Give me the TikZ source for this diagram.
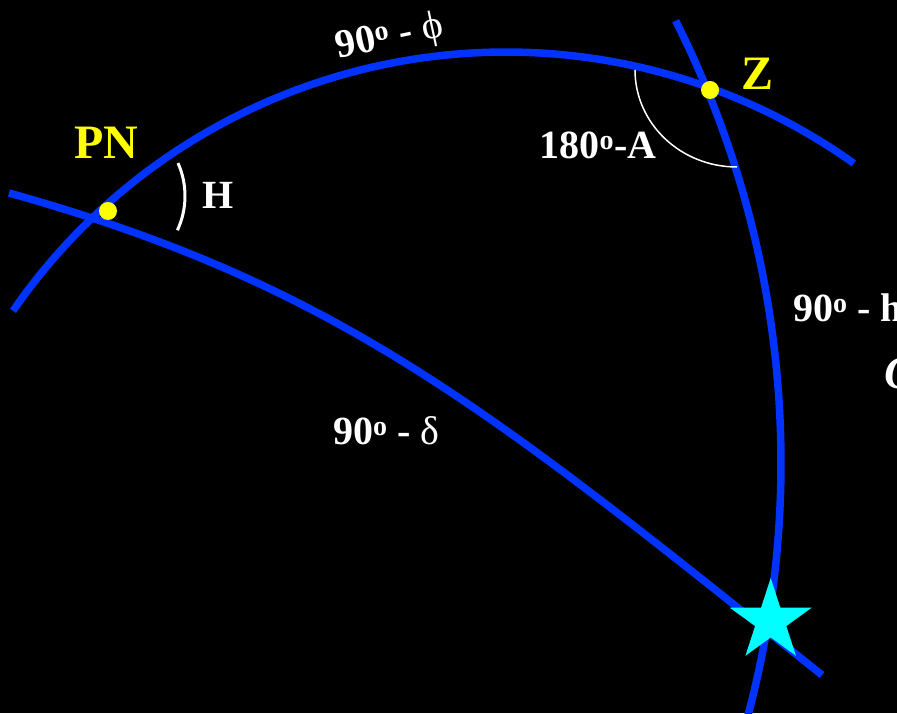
\documentclass[tikz,border=0pt]{standalone}
\usepackage{fontspec}
\setmainfont{Liberation Serif}
\usetikzlibrary{shapes.geometric}
\definecolor{arcblue}{RGB}{0,51,255}
\definecolor{dotyellow}{RGB}{255,255,0}
\definecolor{starcyan}{RGB}{0,255,255}
\begin{document}
\begin{tikzpicture}[x=1pt,y=1pt,
  arcline/.style={line width=7.5pt, draw=arcblue},
  dotnode/.style={circle, fill=dotyellow, inner sep=0pt, minimum size=18pt},
  lbl/.style={text=white, font=\bfseries\fontsize{40}{48}\selectfont, inner sep=0pt},
  ylbl/.style={text=dotyellow, font=\bfseries\fontsize{48}{56}\selectfont, inner sep=0pt},
  anglearc/.style={draw=white}]
\fill[black] (0,0) rectangle (897,713);
\useasboundingbox (0,0) rectangle (897,713);
\clip (0,0) rectangle (897,713);
% great circles
\draw[arcline] (506,62) ++(145.4:599) arc[start angle=145.4, end angle=54.5, radius=599];
\draw[arcline] (-200,250) ++(26.8:981) arc[start angle=26.8, end angle=-16, radius=981];
\draw[arcline] (9,520) .. controls (339,428) and (492,302) .. (822,38);
% angle marks
\draw[anglearc, line width=3pt] (104,517) ++(24:81) arc[start angle=24, end angle=-25, radius=81];
\draw[anglearc, line width=1.5pt] (635,643) arc[start angle=180, end angle=270, x radius=102, y radius=97];
% points
\node[dotnode] (PN) at (108,502) {};
\node[dotnode] (Z) at (710,623) {};
\node[star, star points=5, star point ratio=2.618, fill=starcyan, minimum size=86pt, inner sep=0pt] (star) at (770.7,92) {};
% labels
\node[ylbl] (PNlabel) at (106.5,570) {PN};
\node[ylbl] (Zlabel) at (757,639) {Z};
\node[lbl] (Hlabel) at (218,518) {H};
\node[lbl] (Alabel) at (598,568) {180\textsuperscript{o}-A};
\node[lbl] (dlabel) at (386.5,282) {90\textsuperscript{o} - {\mdseries δ}};
\node[lbl, rotate=12] (plabel) at (390,675) {90\textsuperscript{o} - {\mdseries ϕ}};
\node[lbl, anchor=base west] (hlabel) at (793,391) {90\textsuperscript{o} - h};
\node[lbl, anchor=west, font=\bfseries\itshape\fontsize{46}{52}\selectfont] (cut) at (884,339.5) {O};
\end{tikzpicture}
\end{document}
